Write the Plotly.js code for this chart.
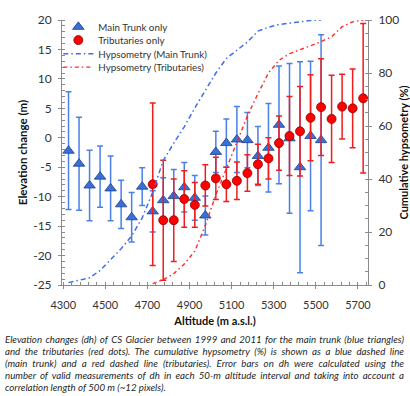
<!DOCTYPE html>
<html>
<head>
<meta charset="utf-8">
<script src="https://cdn.plot.ly/plotly-3.0.1.min.js"></script>
<style>
  html, body { margin: 0; padding: 0; background: #fff; }
  #wrap { position: relative; width: 410px; height: 396px; overflow: hidden; }
  #chart { position: absolute; left: 0; top: 0; width: 410px; height: 396px; }
  #caption {
    position: absolute; left: 5px; top: 333px; width: 399px;
    font-family: Lato, "Liberation Sans", sans-serif; font-style: italic;
    font-size: 9.7px; line-height: 12px; color: #262626;
  }
  #caption .j { text-align: justify; text-align-last: justify; }
  #caption .l { text-align: left; }
</style>
</head>
<body>
<div id="wrap">
  <div id="chart"></div>
  <div id="caption">
    <div class="j">Elevation changes (dh) of CS Glacier between 1999 and 2011 for the main trunk (blue triangles)</div>
    <div class="j">and the tributaries (red dots). The cumulative hypsometry (%) is shown as a blue dashed line</div>
    <div class="j">(main trunk) and a red dashed line (tributaries). Error bars on dh were calculated using the</div>
    <div class="j">number of valid measurements of dh in each 50-m altitude interval and taking into account a</div>
    <div class="l">correlation length of 500 m (~12 pixels).</div>
  </div>
</div>
<script>
// Main trunk: altitude bin centres (m a.s.l.), elevation change (m), error (m), cumulative hypsometry (%)
const altMain = [4325,4375,4425,4475,4525,4575,4625,4675,4725,4775,4825,4875,4925,4975,5025,5075,5125,5175,5225,5275,5325,5375,5425,5475,5525];
const dhMain  = [-2.2,-4.4,-8.1,-6.6,-8.6,-11.3,-13.5,-8.3,-12.5,-10.6,-9.9,-8.4,-10.2,-13.2,-2.4,-0.9,-0.3,-0.4,-3.1,-1.7,2.2,-0.1,-5.0,0.3,-0.4];
const errMain = [10.0,7.9,6.0,5.2,5.5,4.1,4.2,3.2,3.5,3.8,4.5,4.2,3.8,3.3,3.5,4.1,5.6,4.7,5.0,7.5,10.0,12.7,17.9,12.7,17.9];
const hypMain = [0.9,1.8,2.7,5.5,9.7,13.7,18.5,25.3,35.0,47.0,53.5,59.7,66.8,73.5,80.0,85.5,88.5,91.7,95.8,97.3,98.3,98.8,99.4,99.8,100];

// Tributaries
const altTrib = [4725,4775,4825,4875,4925,4975,5025,5075,5125,5175,5225,5275,5325,5375,5425,5475,5525,5575,5625,5675,5725];
const dhTrib  = [-7.9,-14.0,-14.0,-10.4,-11.4,-8.1,-6.9,-7.9,-7.3,-6.0,-4.5,-3.5,-0.9,0.3,1.1,3.4,5.2,3.2,5.3,5.0,6.7];
const errTrib = [13.8,10.2,7.0,4.8,3.8,3.5,3.6,2.9,3.2,3.1,3.4,3.5,4.6,6.7,7.6,7.3,8.2,7.4,5.5,6.7,12.7];
const hypTrib = [0.5,2.0,4.3,7.9,12.8,22.5,34.0,44.1,53.9,63.8,72.2,80.0,84.8,87.3,88.8,90.3,91.8,93.7,97.5,99.3,100];

// Left axis tick labels (plain hyphen minus as in the original)
const yTickVals = [-25,-20,-15,-10,-5,0,5,10,15,20];
const yTickText = ['-25','-20','-15','-10','-5','0','5','10','15','20'];

const FONT = 'Lato, "Liberation Sans", sans-serif';
const AXC = '#8a8a8a';

const traces = [
  {
    name: 'Main Trunk only', x: altMain, y: dhMain, type: 'scatter', mode: 'markers',
    xaxis: 'x', yaxis: 'y', legend: 'legend',
    marker: {symbol: 'triangle-up', size: 10, color: '#3a6fd8', line: {color: '#1c3f8c', width: 0.8}},
    error_y: {type: 'data', array: errMain, visible: true, color: '#4a80e8', thickness: 1.5, width: 3}
  },
  {
    name: 'Tributaries only', x: altTrib, y: dhTrib, type: 'scatter', mode: 'markers',
    xaxis: 'x', yaxis: 'y', legend: 'legend2',
    marker: {symbol: 'circle', size: 9, color: '#ff0000', line: {color: '#8b0000', width: 0.8}},
    error_y: {type: 'data', array: errTrib, visible: true, color: '#f21c1c', thickness: 1.5, width: 3}
  },
  {
    name: 'Hypsometry (Main Trunk)', x: altMain, y: hypMain, type: 'scatter', mode: 'lines',
    xaxis: 'x', yaxis: 'y2', legend: 'legend3',
    line: {color: '#3e6fe6', width: 1.5, dash: '5px,3px,1.5px,3px'}
  },
  {
    name: 'Hypsometry (Tributaries)', x: altTrib, y: hypTrib, type: 'scatter', mode: 'lines',
    xaxis: 'x', yaxis: 'y2', legend: 'legend4',
    line: {color: '#ff2a2a', width: 1.4, dash: '4px,3px,1.5px,3px'}
  }
];

function leg(ypx) {
  // ypx: row centre in pixels from the top of the figure; plot area spans 15..285
  return {
    x: -0.012, y: (285 - ypx) / 270, xanchor: 'left', yanchor: 'middle',
    bgcolor: 'rgba(0,0,0,0)', borderwidth: 0,
    font: {family: FONT, size: 9.8, color: '#333'}
  };
}

const layout = {
  width: 410, height: 396,
  margin: {l: 62, r: 42, t: 15, b: 111, pad: 0},
  paper_bgcolor: '#ffffff', plot_bgcolor: '#ffffff',
  font: {family: FONT, color: '#333'},
  showlegend: true,
  legend: leg(22), legend2: leg(35.5), legend3: leg(49.5), legend4: leg(63),
  xaxis: {
    range: [4294, 5748], tick0: 4300, dtick: 200, showgrid: false, zeroline: false,
    showline: true, linecolor: AXC, linewidth: 1,
    ticks: 'outside', ticklen: 3, tickcolor: AXC,
    minor: {dtick: 40, tick0: 4300, ticks: 'inside', ticklen: 3, tickcolor: AXC, showgrid: false},
    tickfont: {family: FONT, size: 11, color: '#333'},
    ticklabelstandoff: 7,
    title: {text: 'Altitude (m a.s.l.)', font: {family: FONT, size: 11, color: '#111', weight: 700}, standoff: 7},
    automargin: false
  },
  yaxis: {
    range: [-25, 20], tickmode: 'array', tickvals: yTickVals, ticktext: yTickText,
    showgrid: false, zeroline: false,
    showline: true, linecolor: AXC, linewidth: 1,
    ticks: 'outside', ticklen: 3, tickcolor: AXC,
    minor: {dtick: 1, tick0: 0, ticks: 'inside', ticklen: 3, tickcolor: AXC, showgrid: false},
    tickfont: {family: FONT, size: 12, color: '#333'},
    ticklabelstandoff: 4,
    title: {text: 'Elevation change (m)', font: {family: FONT, size: 11.5, color: '#111', weight: 700}, standoff: 3},
    automargin: false
  },
  yaxis2: {
    range: [0, 100], dtick: 20, overlaying: 'y', side: 'right', showgrid: false, zeroline: false,
    showline: true, linecolor: AXC, linewidth: 1,
    ticks: 'outside', ticklen: 3, tickcolor: AXC,
    minor: {dtick: 5, ticks: 'inside', ticklen: 3, tickcolor: AXC, showgrid: false},
    tickfont: {family: FONT, size: 12, color: '#333'},
    ticklabelstandoff: 4,
    title: {text: 'Cumulative hypsometry (%)', font: {family: FONT, size: 11, color: '#111', weight: 700}, standoff: 6},
    automargin: false
  }
};

Plotly.newPlot('chart', traces, layout, {displayModeBar: false, staticPlot: true});
</script>
</body>
</html>
